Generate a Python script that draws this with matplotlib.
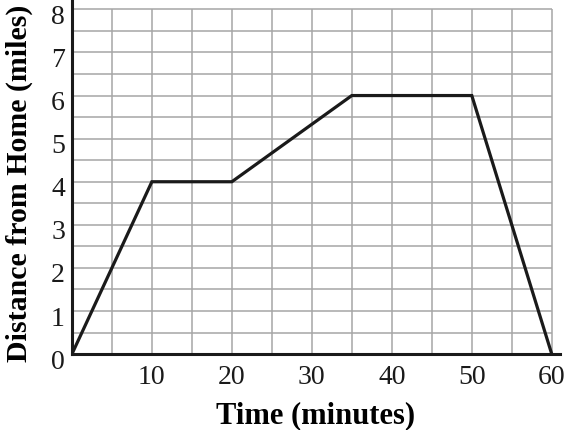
import matplotlib
matplotlib.use("Agg")
import matplotlib.pyplot as plt
import matplotlib.transforms as mtransforms

plt.rcParams['font.family'] = ['Liberation Serif', 'DejaVu Serif']

# trip data: time in minutes, distance from home in miles
times = [0, 10, 20, 35, 50, 60]
distance = [0, 4, 4, 6, 6, 0]

x_ticks = [10, 20, 30, 40, 50, 60]
y_ticks = [0, 1, 2, 3, 4, 5, 6, 7, 8]
x_grid = [5 * i for i in range(1, 13)]
y_grid = [0.5 * i for i in range(1, 17)]

fig = plt.figure(figsize=(5.66, 4.31), dpi=100)
ax = fig.add_axes([0.127, 0.176, 0.862, 0.824])

# grid only inside 0..60 x 0..8
ax.vlines(x_grid, 0, 8, color='#a6a6a6', linewidth=1.1, zorder=1)
ax.hlines(y_grid, 0, 60, color='#a6a6a6', linewidth=1.1, zorder=1)

ax.plot(times, distance, color='#1a1a1a', linewidth=2.3, zorder=3,
        solid_joinstyle='miter')

ax.set_xlim(0, 61)
ax.set_ylim(0, 8.24)
ax.set_xticks(x_ticks)
ax.set_yticks(y_ticks)
ax.tick_params(length=0, labelsize=20, colors='#1a1a1a')
ax.tick_params(axis='y', pad=5)
ax.tick_params(axis='x', pad=7)

# y tick labels sit a little low in the original
shift = mtransforms.ScaledTranslation(0, -4 / 100, fig.dpi_scale_trans)
for lbl in ax.get_yticklabels():
    lbl.set_transform(lbl.get_transform() + shift)

for s in ['top', 'right']:
    ax.spines[s].set_visible(False)
for s in ['left', 'bottom']:
    ax.spines[s].set_linewidth(2.2)
    ax.spines[s].set_color('#1a1a1a')

ax.set_xlabel('Time (minutes)', fontsize=22, fontweight='bold', labelpad=8)
ax.set_ylabel('Distance from Home (miles)', fontsize=21.5, fontweight='bold')
ax.yaxis.set_label_coords(-0.08, 0.484)

fig.savefig('out.png', dpi=100)
